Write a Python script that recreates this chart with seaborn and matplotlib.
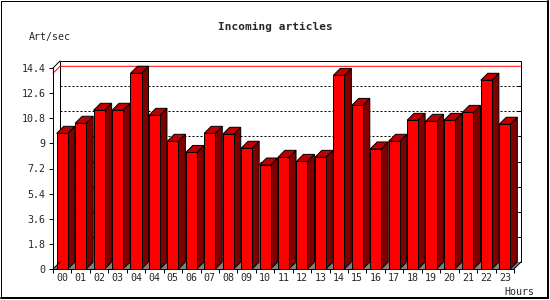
import numpy as np
import pandas as pd
import matplotlib
matplotlib.use("Agg")
import matplotlib.pyplot as plt
import seaborn as sns
from matplotlib.patches import Polygon, Rectangle
from matplotlib.lines import Line2D

# ---- data ----
hours = ['00', '01', '02', '03', '04', '04', '05', '06', '07', '08', '09', '10',
         '11', '12', '13', '14', '15', '16', '17', '18', '19', '20', '21', '22', '23']
values = [9.72, 10.44, 11.37, 11.37, 14.02, 11.01, 9.15, 8.35, 9.72, 9.65, 8.65, 7.45,
          8.0, 7.71, 8.0, 13.87, 11.72, 8.6, 9.15, 10.65, 10.58, 10.65, 11.22, 13.52, 10.37]
yticks = [0, 1.8, 3.6, 5.4, 7.2, 9, 10.8, 12.6, 14.4]
ytick_labels = ['0', '1.8', '3.6', '5.4', '7.2', '9', '10.8', '12.6', '14.4']
title = 'Incoming articles'
ylabel = 'Art/sec'
xlabel = 'Hours'

sns.set_style('white')
plt.rcParams['font.family'] = ['DejaVu Sans Mono', 'DejaVu Sans']

W, H = 550, 300
fig = plt.figure(figsize=(W / 100, H / 100), dpi=100)
fig.patch.set_facecolor('white')

# front plotting region in pixels
x0, x1, yb, yt = 53, 514, 269, 68
ax = fig.add_axes([x0 / W, (H - yb) / H, (x1 - x0) / W, (yb - yt) / H])
n = len(values)
ymax = yticks[-1]
px = 1 / 100 * 72  # one pixel in points

df = pd.DataFrame({'slot': np.arange(n), 'value': values})
sns.barplot(data=df, x='slot', y='value', width=0.6, color='#ff0000',
            saturation=1, edgecolor='black', linewidth=px, ax=ax, zorder=5)
for p in ax.patches:
    p.set_clip_on(False)

ax.set_xlim(-0.5, n - 0.5)
ax.set_ylim(0, ymax)
for s in ax.spines.values():
    s.set_visible(False)
ax.set_facecolor('none')

# depth (7 px) in data units
ppx = (x1 - x0) / n
ppy = (yb - yt) / ymax
dx = 7 / ppx
dy = 7 / ppy

L, R = -0.5, n - 0.5
# back plane
ax.add_patch(Rectangle((L + dx, dy), n, ymax, facecolor='white', edgecolor='black',
                       linewidth=px, clip_on=False, zorder=1))
for v in yticks[1:-1]:
    ax.plot([L + dx, R + dx], [v + dy, v + dy], color='black', linewidth=px,
            linestyle=(0, (2, 2)), clip_on=False, zorder=1.5)
    ax.plot([R + dx - 3 / ppx, R + dx], [v + dy, v + dy], color='black',
            linewidth=px, clip_on=False, zorder=1.5)
# floor
ax.add_patch(Polygon([(L, 0), (R, 0), (R + dx, dy), (L + dx, dy)], closed=True,
                     facecolor='#808080', edgecolor='none', clip_on=False, zorder=2))
# max line
mx = max(values)
ax.plot([L, L + dx, R + dx], [mx, mx + dy, mx + dy], color='#ff0000', linewidth=px,
        clip_on=False, zorder=1.6)
# walls / axes lines
ax.plot([L, L], [0, ymax], color='black', linewidth=px, clip_on=False, zorder=6)
ax.plot([L, R], [0, 0], color='black', linewidth=px, clip_on=False, zorder=6)
ax.plot([L, L + dx], [ymax, ymax + dy], color='black', linewidth=px, clip_on=False, zorder=6)
ax.plot([L, L + dx], [0, dy], color='black', linewidth=px, clip_on=False, zorder=6)
ax.plot([R, R + dx], [0, dy], color='black', linewidth=px, clip_on=False, zorder=6)

# 3D faces of the bars
for p in ax.patches[:]:
    pass
for i, v in enumerate(values):
    l, r = i - 0.3, i + 0.3
    side = Polygon([(r, 0), (r + dx, dy), (r + dx, v + dy), (r, v)], closed=True,
                   facecolor='#800000', edgecolor='black', linewidth=px,
                   clip_on=False, zorder=4)
    top = Polygon([(l, v), (l + dx, v + dy), (r + dx, v + dy), (r, v)], closed=True,
                  facecolor='#c00000', edgecolor='black', linewidth=px,
                  clip_on=False, zorder=4)
    ax.add_patch(side)
    ax.add_patch(top)

# ticks
ax.set_yticks(yticks)
ax.set_yticklabels(ytick_labels)
ax.set_xticks(np.arange(n + 1) - 0.5)
ax.set_xticklabels([])
ax.set_xticks(np.arange(n), minor=True)
ax.set_xticklabels(hours, minor=True)
ax.tick_params(axis='y', which='major', direction='out', length=3, width=px,
               color='black', labelsize=7.2, pad=2.5, left=True)
ax.tick_params(axis='x', which='major', direction='out', length=3, width=px,
               color='black', bottom=True)
ax.tick_params(axis='x', which='minor', length=0, labelsize=7.2, pad=3)
ax.set_xlabel('')
ax.set_ylabel('')

# texts
fig.text(275 / W, 1 - 27 / H, title, ha='center', va='center', fontsize=8,
         fontweight='bold')
fig.text(29 / W, 1 - 37 / H, ylabel, ha='left', va='center', fontsize=7.2)
fig.text(534 / W, 1 - 292 / H, xlabel, ha='right', va='center', fontsize=7.2)

# image frame
def fl(xa, ya, xb, yb_, lw=px):
    fig.add_artist(Line2D([xa / W, xb / W], [1 - ya / H, 1 - yb_ / H], color='black',
                          linewidth=lw, transform=fig.transFigure))
fl(0.5, 0.5, 548, 0.5)
fl(0.5, 0.5, 0.5, 298)
fl(548, 0.5, 548, 298, lw=2 * px)
fl(0.5, 298, 548, 298, lw=2 * px)

fig.savefig('out.png', dpi=100, facecolor='white')
